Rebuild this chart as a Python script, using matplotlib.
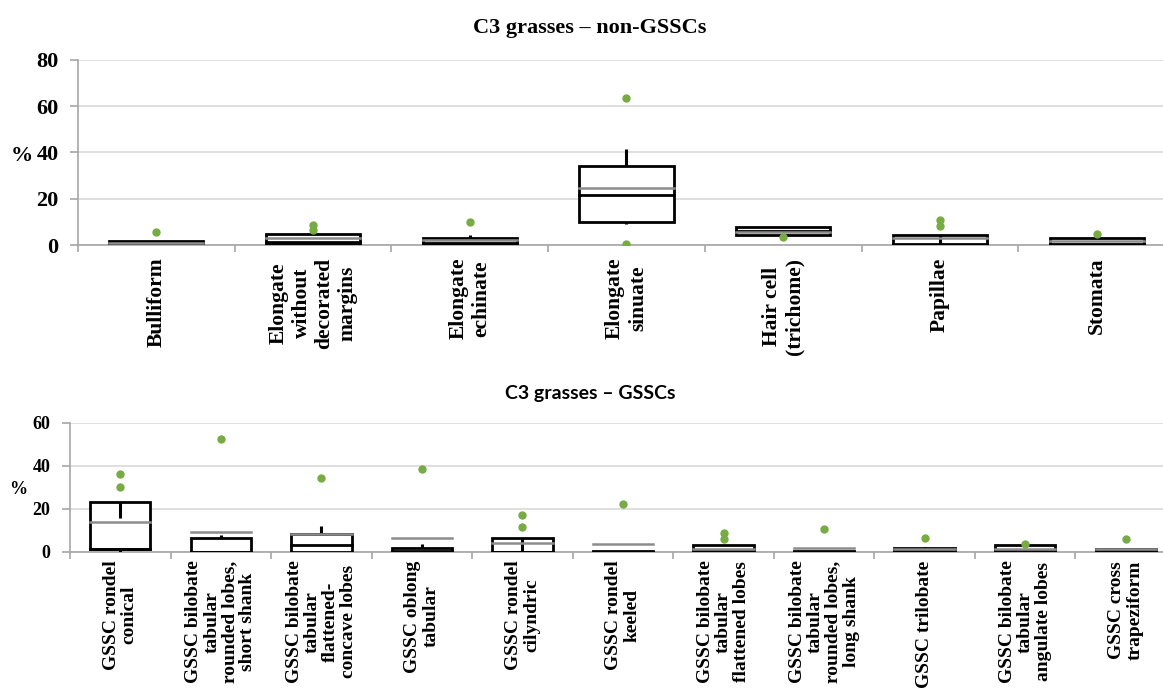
import matplotlib
matplotlib.use("Agg")
import matplotlib.pyplot as plt
from matplotlib.patches import Rectangle

# ---- data: C3 grasses, non-GSSCs ----
top_cats = ["Bulliform", "Elongate\nwithout\ndecorated\nmargins", "Elongate\nechinate",
            "Elongate\nsinuate", "Hair cell\n(trichome)", "Papillae", "Stomata"]
top_q1 = [0, 0.6, 0.3, 10.1, 4.2, 0, 0]
top_q3 = [1.7, 4.9, 3.0, 34.1, 7.8, 4.5, 3.2]
top_med = [0.6, 1.5, 1.0, 21.8, 6.2, 0.6, 0.6]
top_mean = [1.0, 3.2, 2.0, 24.7, 5.6, 3.0, 1.7]
top_whi = [1.7, 5.0, 4.2, 41.4, 7.8, 0, 3.2]
top_wlo = [0, 0, 0, 9.2, 4.2, 0, 0]
top_out = [[5.6], [8.8, 6.4], [10.0], [63.5, 0.4], [3.5], [10.7, 8.2], [4.9]]

# ---- data: C3 grasses, GSSCs ----
bot_cats = ["GSSC rondel\nconical", "GSSC bilobate\ntabular\nrounded lobes,\nshort shank",
            "GSSC bilobate\ntabular\nflattened-\nconcave lobes", "GSSC oblong\ntabular",
            "GSSC rondel\ncilyndric", "GSSC rondel\nkeeled",
            "GSSC bilobate\ntabular\nflattened lobes", "GSSC bilobate\ntabular\nrounded lobes,\nlong shank",
            "GSSC trilobate", "GSSC bilobate\ntabular\nangulate lobes", "GSSC cross\ntrapeziform"]
bot_q1 = [1.2, 0, 0, 0, 0, 0, 0, 0, 0, 0, 0]
bot_q3 = [23.1, 6.6, 8.5, 2.0, 6.6, 0.5, 3.2, 0.6, 1.7, 3.4, 1.4]
bot_med = [1.2, 0, 3.1, 0.3, 0, 0, 0.5, 0.2, 0.3, 0.5, 0.2]
bot_mean = [14.1, 9.1, 8.2, 6.4, 4.0, 3.6, 1.5, 2.0, 1.5, 1.5, 1.2]
bot_whi = [15.6, 7.9, 12.2, 3.7, 0, 0.5, 3.2, 0.6, 2.2, 3.4, 1.4]
bot_wlo = [0, 0, 0, 0, 0, 0, 0, 0, 0, 0, 0]
bot_out = [[36.0, 30.3], [52.3], [34.5], [38.4], [17.2, 11.8], [22.1], [9.0, 5.9],
           [10.7], [6.6], [3.7], [6.2]]

SERIF = "Liberation Serif"
GRID = "#d9d9d9"
AXC = "#a6a6a6"
MEANC = "#8c8c8c"
GREEN = "#77ab43"


def draw_boxes(ax, cats, q1, q3, med, mean, whi, wlo, outs, ymax, step,
               lab_size, lab_ls, lab_pad, tick_size):
    n = len(cats)
    w = 0.6
    for i in range(n):
        x = i + 1
        ax.add_patch(Rectangle((x - w / 2, q1[i]), w, q3[i] - q1[i], facecolor="white",
                               edgecolor="black", lw=2.0, zorder=3))
        ax.plot([x - w / 2, x + w / 2], [med[i], med[i]], color="black", lw=2.0, zorder=4)
        ax.plot([x - w / 2, x + w / 2], [mean[i], mean[i]], color=MEANC, lw=1.8, zorder=5)
        ax.plot([x, x], [q3[i], whi[i]], color="black", lw=2.2, zorder=4, solid_capstyle="butt")
        ax.plot([x, x], [q1[i], wlo[i]], color="black", lw=2.2, zorder=4, solid_capstyle="butt")
        ax.plot([x] * len(outs[i]), outs[i], "o", color=GREEN, ms=5, mec=GREEN, zorder=6)
    ax.set_xlim(0.5, n + 0.5)
    ax.set_ylim(0, ymax)
    ax.set_yticks(range(0, ymax + 1, step))
    ax.yaxis.grid(True, color=GRID, lw=1.2)
    ax.set_axisbelow(True)
    for s in ["top", "right"]:
        ax.spines[s].set_visible(False)
    for s in ["left", "bottom"]:
        ax.spines[s].set_color(AXC)
        ax.spines[s].set_linewidth(1.2)
    ax.set_xticks(range(1, n + 1))
    ax.set_xticklabels(cats, rotation=90, ha="center", va="top", multialignment="center",
                       fontfamily=SERIF, fontweight="bold", fontsize=lab_size, linespacing=lab_ls)
    ax.set_xticks([i + 0.5 for i in range(n + 1)], minor=True)
    ax.tick_params(axis="x", which="major", length=0, pad=lab_pad)
    ax.tick_params(axis="x", which="minor", length=5, color=AXC, width=1.2)
    ax.tick_params(axis="y", length=6, color=AXC, width=1.2, pad=8)
    for t in ax.get_yticklabels():
        t.set_fontfamily(SERIF)
        t.set_fontweight("bold")
        t.set_fontsize(tick_size)


fig = plt.figure(figsize=(11.63, 6.88), dpi=100)
W, H = 1163, 688

ax1 = fig.add_axes([78 / W, 1 - 245 / H, (1175 - 78) / W, (245 - 59.7) / H])
draw_boxes(ax1, top_cats, top_q1, top_q3, top_med, top_mean, top_whi, top_wlo, top_out,
           80, 20, 15.5, 1.2, 9, 16)

ax2 = fig.add_axes([70 / W, 1 - 552 / H, (1176 - 70) / W, 129.3 / H])
draw_boxes(ax2, bot_cats, bot_q1, bot_q3, bot_med, bot_mean, bot_whi, bot_wlo, bot_out,
           60, 20, 14, 1.08, 6, 13)

fig.text(590 / W, 1 - 28 / H, "C3 grasses \u2013 non-GSSCs", ha="center", va="center",
         fontfamily=SERIF, fontweight="bold", fontsize=16)
fig.text(590 / W, 1 - 393 / H, "C3 grasses \u2013 GSSCs", ha="center", va="center",
         fontfamily="Lato", fontweight="bold", fontsize=14)
fig.text(22 / W, 1 - 156 / H, "%", ha="center", va="center",
         fontfamily=SERIF, fontweight="bold", fontsize=16)
fig.text(18 / W, 1 - 489 / H, "%", ha="center", va="center",
         fontfamily=SERIF, fontweight="bold", fontsize=13)

fig.savefig("out.png", dpi=100)
